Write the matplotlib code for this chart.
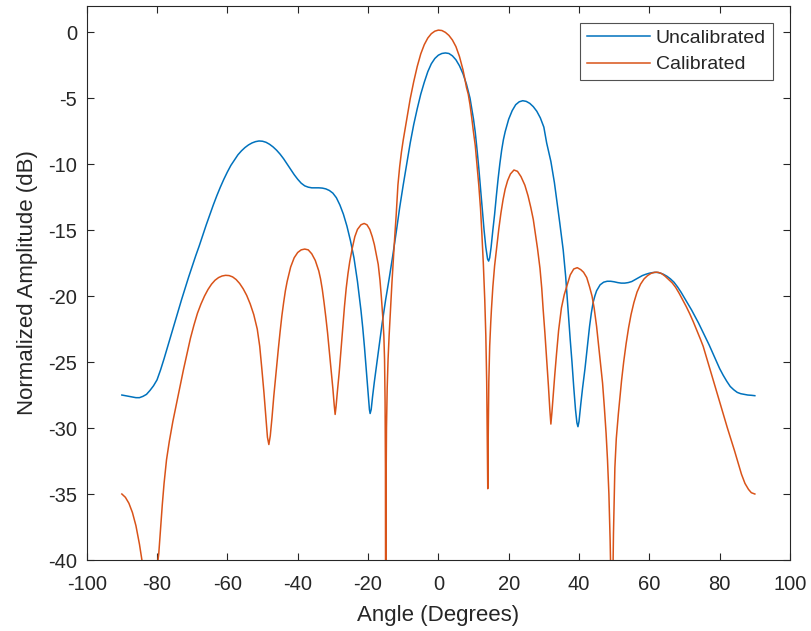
import matplotlib
matplotlib.use("Agg")
import matplotlib.pyplot as plt

# ---------------- data ----------------
uncal_x = [-90, -89, -88, -87, -86, -85, -84, -83, -82, -81, -80, -79, -78, -77, -76, -75, -74,
           -73, -72, -71, -70, -69, -68, -67, -66, -65, -64, -63, -62, -61, -60, -59, -58, -57,
           -56, -55, -54, -53, -52, -51, -50, -49, -48, -47, -46, -45, -44, -43, -42, -41, -40,
           -39, -38, -37, -36, -35, -34, -33, -32, -31, -30, -29, -28, -27, -26, -25, -24, -23,
           -22, -21.5, -21, -20.5, -20, -19.6, -19.4, -19.1, -18.7, -18.2, -17.5, -16.6, -16,
           -15, -14, -13, -12, -11, -10, -9, -8, -7, -6, -5, -4, -3, -2, -1, 0, 1, 2, 3, 4, 5,
           6, 7, 8, 9, 10, 10.5, 11, 11.5, 12, 12.5, 13, 13.5, 14, 14.3, 14.6, 15, 15.5, 16,
           16.5, 17, 17.5, 18, 18.5, 19, 20, 21, 22, 23, 24, 25, 26, 27, 28, 29, 30, 30.8, 32,
           33, 33.6, 34.5, 35.5, 36.2, 36.9, 37.5, 38, 38.5, 39, 39.4, 39.7, 40.0, 40.5, 41,
           41.7, 42.5, 43, 43.5, 44, 44.5, 45, 46, 47, 48, 49, 50, 51, 52, 53, 54, 55, 56, 57,
           58, 59, 60, 61, 62, 63, 64, 65, 66, 67, 68, 69, 70, 71, 72, 73, 74, 75, 76, 77, 78,
           79, 80, 81, 82, 83, 84, 85, 86, 87, 88, 89, 90]
uncal_y = [-27.5, -27.55, -27.6, -27.65, -27.7, -27.7, -27.6, -27.45, -27.15, -26.8, -26.35,
           -25.6, -24.75, -23.85, -22.95, -22.05, -21.15, -20.25, -19.4, -18.55, -17.75,
           -16.95, -16.2, -15.4, -14.6, -13.85, -13.1, -12.4, -11.75, -11.15, -10.6, -10.1,
           -9.7, -9.3, -9.0, -8.75, -8.55, -8.4, -8.3, -8.25, -8.27, -8.35, -8.5, -8.7, -8.95,
           -9.25, -9.6, -10.0, -10.4, -10.8, -11.15, -11.45, -11.65, -11.75, -11.8, -11.8,
           -11.8, -11.82, -11.88, -12.0, -12.2, -12.55, -13.1, -13.8, -14.7, -15.8, -17.1,
           -18.9, -21.1, -22.4, -23.9, -25.6, -27.3, -28.6, -28.9, -28.6, -27.6, -26.5, -25.1,
           -23.3, -22.1, -20.3, -18.7, -17.0, -15.2, -13.3, -11.6, -10.0, -8.4, -7.0, -5.8,
           -4.7, -3.8, -3.0, -2.4, -2.0, -1.75, -1.62, -1.58, -1.62, -1.8, -2.1, -2.55, -3.15,
           -3.95, -5.0, -6.6, -7.6, -8.9, -10.3, -11.9, -13.5, -15.0, -16.3, -17.2, -17.35,
           -17.1, -16.3, -15.0, -13.8, -12.4, -11.1, -9.95, -8.95, -8.15, -7.55, -6.6, -5.95,
           -5.5, -5.28, -5.2, -5.25, -5.4, -5.65, -6.0, -6.5, -7.2, -8.4, -9.8, -11.4, -12.6,
           -14.4, -16.5, -18.5, -21.1, -23.3, -25.0, -26.9, -28.6, -29.6, -29.9, -29.5, -28.2,
           -27.0, -25.5, -23.5, -22.3, -21.3, -20.5, -20.0, -19.6, -19.15, -18.95, -18.88,
           -18.88, -18.92, -18.98, -19.02, -19.02, -18.98, -18.9, -18.75, -18.6, -18.45,
           -18.35, -18.27, -18.22, -18.2, -18.25, -18.35, -18.5, -18.7, -18.95, -19.3, -19.7,
           -20.15, -20.6, -21.05, -21.55, -22.05, -22.6, -23.15, -23.7, -24.3, -24.9, -25.5,
           -26.0, -26.45, -26.85, -27.1, -27.3, -27.4, -27.45, -27.5, -27.52, -27.55]

cal_x = [-90, -89, -88, -87, -86, -85, -84.3, -83.5, -82.5, -81.5, -80.5, -79.5, -78.5, -78,
         -77.3, -76.5, -75.5, -74.5, -73.5, -72.5, -71.5, -70.5, -69.5, -68.5, -67.5, -66.5,
         -65.5, -64.5, -63.5, -62.5, -61.5, -60.5, -59.5, -58.5, -57.5, -56.5, -55.5, -54.5,
         -53.5, -52.5, -51.5, -50.8, -50.2, -49.6, -49.0, -48.6, -48.2, -47.8, -47.3, -46.8,
         -46.2, -45.5, -45, -44.5, -44, -43.5, -43, -42, -41, -40, -39, -38, -37, -36, -35,
         -34, -33.5, -33, -32.5, -32, -31.5, -31, -30.5, -30, -29.6, -29.35, -29.1, -28.7,
         -28.2, -27.7, -27.2, -26.7, -26.2, -25.7, -25.2, -24.5, -23.75, -23, -22, -21.1,
         -20.3, -19.5, -18.8, -18.2, -17.6, -17.1, -16.6, -16.2, -15.8, -15.5, -15.3, -15.15,
         -15.05, -14.97, -14.88, -14.75, -14.55, -14.3, -14.0, -13.6, -13.2, -12.8, -12.4,
         -12.0, -11.5, -11.0, -10.5, -10.0, -9.5, -9.0, -8.0, -7.0, -6.0, -5.0, -4.0, -3.0,
         -2.0, -1.0, 0.0, 1.0, 2.0, 3.0, 4.0, 5.0, 6.0, 7.0, 7.5, 8.0, 8.5, 9.0, 9.5, 10.0,
         10.5, 11.0, 11.5, 12.0, 12.4, 12.8, 13.2, 13.5, 13.75, 13.95, 14.05, 14.15, 14.35,
         14.6, 14.9, 15.1, 15.5, 16.0, 16.6, 17.2, 17.8, 18.4, 19.0, 19.7, 20.5, 21.5, 22.5,
         23.5, 24.6, 25.5, 26.3, 27.0, 27.6, 28.2, 28.9, 29.4, 29.8, 30.3, 30.8, 31.3, 31.7,
         32.0, 32.3, 32.7, 33.1, 33.6, 34.2, 35.0, 35.8, 36.6, 37.5, 38.5, 39.5, 40.5, 41.3,
         42.2, 43.0, 43.7, 44.3, 45.0, 45.6, 46.1, 46.7, 47.2, 47.7, 48.1, 48.5, 48.85, 49.1,
         49.35, 49.6, 49.8, 50.2, 50.6, 51.2, 51.7, 52.1, 52.7, 53.4, 54.1, 54.8, 55.6, 56.5,
         57.5, 58.5, 59.5, 60.5, 61.5, 62.5, 63.5, 64.5, 65.5, 66.5, 67.5, 68.5, 69.5, 70.5,
         71.5, 72.5, 73.5, 74.5, 75.3, 76.2, 77.2, 78.2, 79.2, 80.2, 81.2, 82.2, 83.2, 84.2,
         85.2, 86.2, 87.2, 88.2, 89.0, 90]
cal_y = [-35.0, -35.25, -35.7, -36.4, -37.4, -38.8, -40.0, -42.5, -47.0, -44.5, -41.8, -39.5,
         -35.8, -34.2, -32.4, -31.0, -29.5, -28.2, -26.9, -25.6, -24.4, -23.2, -22.2, -21.3,
         -20.6, -20.0, -19.5, -19.1, -18.8, -18.6, -18.48, -18.43, -18.45, -18.55, -18.75,
         -19.05, -19.45, -19.95, -20.6, -21.4, -22.5, -23.8, -25.5, -27.3, -29.4, -30.7,
         -31.25, -30.6, -29.2, -27.6, -25.9, -24.0, -22.7, -21.5, -20.5, -19.6, -18.9, -17.8,
         -17.1, -16.7, -16.5, -16.44, -16.5, -16.8, -17.3, -18.1, -18.7, -19.5, -20.5, -21.6,
         -22.8, -24.2, -25.6, -27.0, -28.3, -28.97, -28.4, -27.2, -25.8, -24.1, -22.4, -20.8,
         -19.4, -18.3, -17.4, -16.4, -15.5, -14.95, -14.6, -14.5, -14.6, -14.95, -15.5,
         -16.1, -16.9, -17.6, -18.8, -20.1, -21.6, -23.0, -24.8, -28.0, -33.0, -50.0, -35.0,
         -30.0, -27.0, -24.8, -23.0, -21.0, -19.0, -17.2, -15.5, -13.9, -11.6, -10.2, -9.1,
         -8.2, -7.4, -6.6, -5.05, -3.75, -2.6, -1.65, -0.95, -0.45, -0.12, 0.07, 0.15, 0.12,
         -0.02, -0.25, -0.6, -1.1, -1.85, -2.85, -3.5, -4.2, -4.7, -5.5, -6.5, -7.6, -8.6,
         -10.1, -11.6, -13.4, -15.4, -17.6, -20.3, -23.0, -26.5, -31.5, -34.6, -31.5, -26.5,
         -23.8, -22.0, -21.0, -19.3, -17.7, -16.3, -14.9, -13.7, -12.7, -11.9, -11.25,
         -10.75, -10.45, -10.55, -10.95, -11.6, -12.4, -13.3, -14.2, -15.3, -16.4, -17.9,
         -19.4, -21.0, -22.8, -24.8, -26.8, -28.6, -29.7, -28.8, -27.4, -26.0, -24.4, -22.6,
         -20.9, -19.9, -19.2, -18.4, -17.95, -17.85, -18.0, -18.2, -18.6, -19.3, -20.0,
         -20.9, -22.3, -23.8, -25.1, -26.6, -28.4, -30.4, -32.4, -35.0, -38.5, -42.0, -55.0,
         -42.0, -38.0, -33.0, -30.8, -28.9, -27.5, -26.4, -25.0, -23.6, -22.4, -21.4, -20.5,
         -19.7, -19.1, -18.7, -18.45, -18.28, -18.2, -18.2, -18.3, -18.5, -18.75, -19.0,
         -19.35, -19.8, -20.3, -20.8, -21.35, -21.95, -22.6, -23.25, -23.8, -24.6, -25.5,
         -26.4, -27.3, -28.2, -29.1, -30.0, -30.85, -31.7, -32.6, -33.5, -34.2, -34.65,
         -34.9, -35.0]

series_labels = ["Uncalibrated", "Calibrated"]
x_ticks = [-100, -80, -60, -40, -20, 0, 20, 40, 60, 80, 100]
y_ticks = [-40, -35, -30, -25, -20, -15, -10, -5, 0]
x_label = "Angle (Degrees)"
y_label = "Normalized Amplitude (dB)"

# ---------------- styling ----------------
plt.rcParams['font.family'] = ['Liberation Sans', 'DejaVu Sans']
dark = '#262626'

fig = plt.figure(figsize=(8.12, 6.31), dpi=100)
ax = fig.add_axes([86.7 / 812, 1 - 560 / 631, (790 - 86.7) / 812, (560 - 5.7) / 631])

ax.plot(uncal_x, uncal_y, color='#0072BD', lw=1.1, label=series_labels[0])
ax.plot(cal_x, cal_y, color='#D95319', lw=1.1, label=series_labels[1])

ax.set_xlim(-100, 100)
ax.set_ylim(-40, 2)
ax.set_xticks(x_ticks)
ax.set_yticks(y_ticks)
ax.set_xticklabels([str(v) for v in x_ticks])
ax.set_yticklabels([str(v) for v in y_ticks])

for s in ax.spines.values():
    s.set_color(dark)
    s.set_linewidth(0.8)
ax.tick_params(axis='both', direction='in', length=5, width=0.8, color=dark,
               labelcolor=dark, labelsize=14.5, top=True, right=True)
ax.tick_params(axis='x', pad=11)
ax.tick_params(axis='y', pad=7)

ax.set_xlabel(x_label, fontsize=16, color=dark, labelpad=8)
ax.set_ylabel(y_label, fontsize=16, color=dark, labelpad=7)

leg = ax.legend(loc='upper right', bbox_to_anchor=(0.9754, 0.9693), fontsize=14,
                frameon=True, fancybox=False, handlelength=3.25, handletextpad=0.3,
                borderpad=0.35, labelspacing=0.45, borderaxespad=0)
leg.get_frame().set_edgecolor(dark)
leg.get_frame().set_linewidth(0.8)
for t in leg.get_texts():
    t.set_color(dark)

fig.savefig("out.png", dpi=100)
